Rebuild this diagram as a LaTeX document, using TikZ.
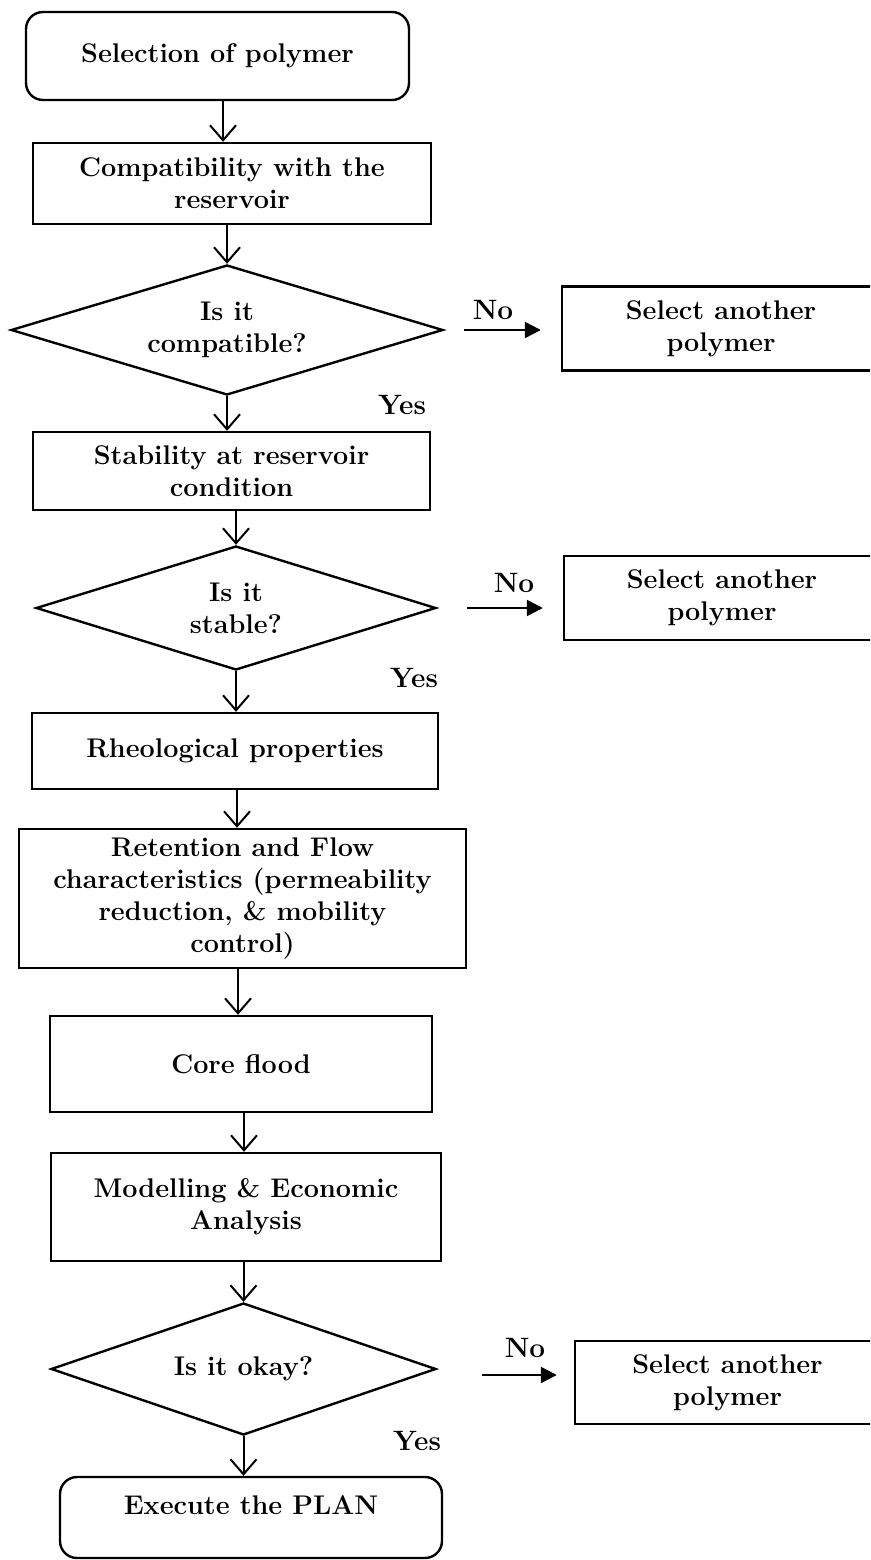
\documentclass[tikz,border=0pt]{standalone}
\usetikzlibrary{shapes.geometric,arrows.meta}
\begin{document}
\begin{tikzpicture}[x=1pt,y=-1pt,
  every node/.style={font=\fontsize{27}{32}\selectfont\bfseries, align=center, inner sep=0pt},
  box/.style={draw, line width=2.4pt, rectangle},
  rbox/.style={box, rounded corners=17pt},
  dia/.style={draw, line width=2.4pt, diamond, aspect=3.3},
  varr/.style={line width=2pt, -{Straight Barb[length=15pt,width=26pt,line width=2pt]}},
  harr/.style={line width=2.4pt, -{Triangle[length=16pt,width=16pt]}},
  lbl/.style={font=\fontsize{28}{32}\selectfont\bfseries}]
\useasboundingbox (0,0) rectangle (870,1560);
\clip (0,0) rectangle (870,1560);
% main column
\node[rbox, minimum width=383pt, minimum height=88pt] (start) at (217.5,56) {Selection of polymer};
\node[box, minimum width=398pt, minimum height=81pt] (comp) at (232,183.5) {Compatibility with the\\reservoir};
\node[dia, minimum width=432pt, minimum height=130pt] (d1) at (227,330) {Is it\\compatible?};
\node[box, minimum width=397pt, minimum height=78pt] (stab) at (231.5,471) {Stability at reservoir\\condition};
\node[dia, minimum width=400pt, minimum height=124pt] (d2) at (236,608) {Is it\\stable?};
\node[box, minimum width=406pt, minimum height=76pt] (rheo) at (235,751) {Rheological properties};
\node[box, minimum width=447pt, minimum height=139pt] (ret) at (242.5,898.5) {Retention and Flow\\characteristics (permeability\\reduction, \& mobility\\control)};
\node[box, minimum width=382pt, minimum height=96pt] (core) at (241,1064) {Core flood};
\node[box, minimum width=390pt, minimum height=108pt] (model) at (246,1207) {Modelling \& Economic\\Analysis};
\node[dia, minimum width=385pt, minimum height=132pt] (d3) at (243.5,1369) {Is it okay?};
\node[rbox, minimum width=382pt, minimum height=81pt, text height=19pt, text depth=25pt] (end) at (251,1517.5) {Execute the PLAN};
% side boxes
\node[box, minimum width=318pt, minimum height=84pt] (s1) at (721,328.5) {Select another\\polymer};
\node[box, minimum width=316pt, minimum height=84pt] (s2) at (722,598) {Select another\\polymer};
\node[box, minimum width=305pt, minimum height=83pt] (s3) at (727.5,1382.5) {Select another\\polymer};
% labels
\node[lbl] (no1) at (493,310) {No};
\node[lbl] (yes1) at (402,405) {Yes};
\node[lbl] (no2) at (514,583) {No};
\node[lbl] (yes2) at (414,678) {Yes};
\node[lbl] (no3) at (525,1348) {No};
\node[lbl] (yes3) at (417,1441) {Yes};
% arrow columns
\coordinate (c1) at (223,0);
\coordinate (c6) at (237,0);
\coordinate (c7) at (238,0);
\coordinate (c8) at (244,0);
\draw[varr] (start.south -| c1) -- (comp.north -| c1);
\draw[varr] (comp.south -| d1.north) -- (d1.north);
\draw[varr] (d1.south) -- (stab.north -| d1.south);
\draw[varr] (stab.south -| d2.north) -- (d2.north);
\draw[varr] (d2.south) -- (rheo.north -| d2.south);
\draw[varr] (rheo.south -| c6) -- (ret.north -| c6);
\draw[varr] (ret.south -| c7) -- (core.north -| c7);
\draw[varr] (core.south -| c8) -- (model.north -| c8);
\draw[varr] (model.south -| d3.north) -- (d3.north);
\draw[varr] (d3.south) -- (end.north -| d3.south);
% No arrows
\coordinate (h3) at (0,1375);
\draw[harr] ([xshift=20pt]d1.east) -- ([xshift=-20pt]d1.east -| s1.west);
\draw[harr] ([xshift=30pt]d2.east) -- ([xshift=-20pt]d2.east -| s2.west);
\draw[harr] ([xshift=45pt]h3 -| d3.east) -- ([xshift=-17pt]h3 -| s3.west);
\end{tikzpicture}
\end{document}
